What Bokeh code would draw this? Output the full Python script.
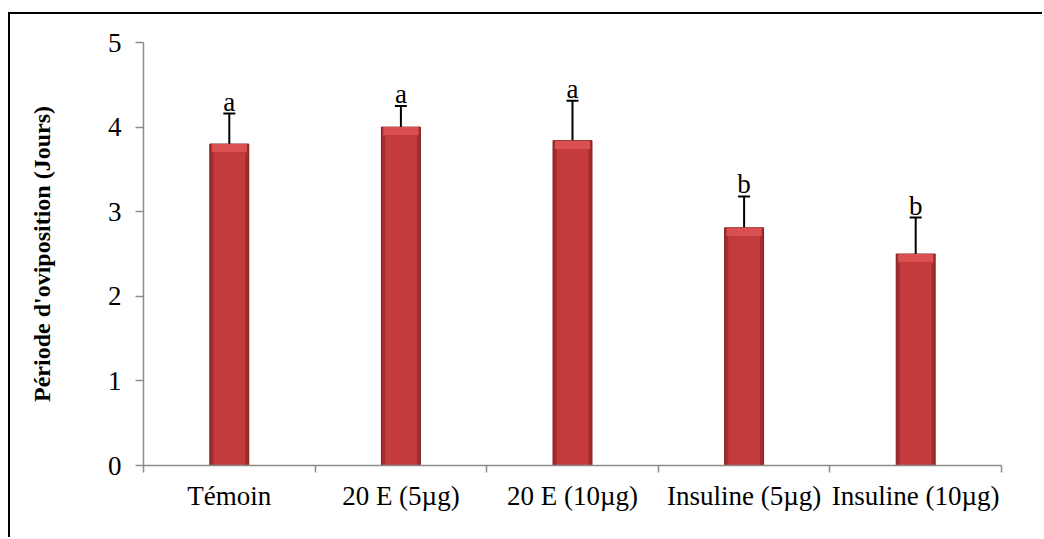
from bokeh.plotting import figure
from bokeh.models import Range1d, FixedTicker, Whisker, TeeHead, ColumnDataSource
from bokeh.embed import file_html
from bokeh.resources import INLINE
from bokeh.core.properties import value

categories = ["Témoin", "20 E (5µg)", "20 E (10µg)", "Insuline (5µg)", "Insuline (10µg)"]
means = [3.80, 4.00, 3.84, 2.81, 2.50]
errors = [0.36, 0.25, 0.47, 0.37, 0.43]
letters = ["a", "a", "a", "b", "b"]
y_ticks = [0, 1, 2, 3, 4, 5]

n = len(categories)
xc = [i + 0.5 for i in range(n)]
bounds = [i for i in range(n + 1)]
upper = [m + e for m, e in zip(means, errors)]
bevel = 0.1
src = ColumnDataSource(dict(
    x=xc, top=means, upper=upper, letter=letters,
    body_top=[m - bevel for m in means],
    bevel_bottom=[m - bevel for m in means],
))

FONT = "Liberation Serif"

p = figure(width=1034, height=525, x_range=Range1d(0, n), y_range=Range1d(0, 5),
           output_backend="svg", toolbar_location=None,
           min_border_left=133, min_border_right=43, min_border_top=28, min_border_bottom=74)
p.styles = {"border-top": "2px solid black", "border-left": "2px solid black",
            "margin-top": "12px", "margin-left": "8px"}
p.outline_line_color = None
p.xgrid.grid_line_color = None
p.ygrid.grid_line_color = None
p.background_fill_color = "white"
p.border_fill_color = "white"

# bars with a simple bevel look
p.vbar(x="x", top="top", bottom=0, width=0.227, source=src,
       fill_color="#A32B2D", line_color="#7E1F20", line_width=1)
p.vbar(x="x", top="top", bottom="bevel_bottom", width=0.205, source=src,
       fill_color="#DA5051", line_color=None)
p.vbar(x="x", top="body_top", bottom=0, width=0.185, source=src,
       fill_color="#C33B3D", line_color=None)

w = Whisker(base="x", lower="top", upper="upper", source=src,
            line_color="black", line_width=2,
            upper_head=TeeHead(size=12, line_color="black", line_width=2),
            lower_head=None)
p.add_layout(w)

p.text(x="x", y="upper", text="letter", source=src,
       text_font=value(FONT), text_font_size="27px", text_color="black",
       text_align="center", text_baseline="bottom", y_offset=3)

ax = p.xaxis[0]
ax.ticker = FixedTicker(ticks=xc, minor_ticks=bounds)
ax.major_label_overrides = {x: c for x, c in zip(xc, categories)}
ax.major_tick_line_color = None
ax.major_tick_out = 7
ax.major_tick_in = 0
ax.minor_tick_line_color = "#8C8C8C"
ax.minor_tick_line_width = 1.5
ax.minor_tick_out = 7
ax.minor_tick_in = 0
ax.axis_line_color = "#8C8C8C"
ax.axis_line_width = 1.5
ax.major_label_standoff = 8
ax.major_label_text_font = FONT
ax.major_label_text_font_size = "27px"
ax.major_label_text_color = "black"

ay = p.yaxis[0]
ay.ticker = FixedTicker(ticks=y_ticks, minor_ticks=[])
ay.major_tick_out = 8
ay.major_tick_in = 0
ay.major_tick_line_color = "#8C8C8C"
ay.major_tick_line_width = 1.5
ay.axis_line_color = "#8C8C8C"
ay.axis_line_width = 1.5
ay.major_label_standoff = 14
ay.major_label_text_font = FONT
ay.major_label_text_font_size = "27px"
ay.major_label_text_color = "black"
ay.axis_label = "Période d'oviposition (Jours)"
ay.axis_label_text_font = FONT
ay.axis_label_text_font_style = "bold"
ay.axis_label_text_font_size = "24px"
ay.axis_label_text_color = "black"
ay.axis_label_standoff = 50

open("out.html", "w").write(file_html(p, INLINE))
